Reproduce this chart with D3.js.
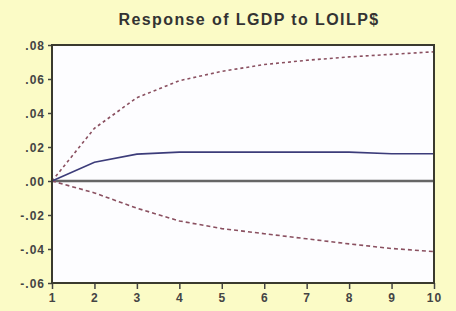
<!DOCTYPE html>
<html>
<head>
<meta charset="utf-8">
<script src="https://cdn.jsdelivr.net/npm/d3@7"></script>
<style>
  body { margin: 0; background: #fbfbc6; }
  svg { display: block; }
</style>
</head>
<body>
<svg id="chart" width="456" height="311"></svg>
<script>
const periods = [1, 2, 3, 4, 5, 6, 7, 8, 9, 10];
const response = [0, 0.011, 0.0158, 0.017, 0.017, 0.017, 0.017, 0.017, 0.016, 0.016];
const upperBand = [0, 0.031, 0.049, 0.059, 0.0645, 0.0685, 0.071, 0.073, 0.0745, 0.076];
const lowerBand = [0, -0.007, -0.016, -0.0235, -0.028, -0.031, -0.034, -0.037, -0.0397, -0.0415];
const yTicks = [0.08, 0.06, 0.04, 0.02, 0, -0.02, -0.04, -0.06];

const width = 456, height = 311;
const margin = { top: 45, right: 22, bottom: 28, left: 52 };

const svg = d3.select('#chart');

const x = d3.scaleLinear().domain([1, 10]).range([margin.left, width - margin.right]);
const y = d3.scaleLinear().domain([-0.06, 0.08]).range([height - margin.bottom, margin.top]);

svg.append('rect')
    .attr('x', margin.left).attr('y', margin.top)
    .attr('width', x(10) - x(1)).attr('height', y(-0.06) - y(0.08))
    .attr('fill', '#fdfdff');

svg.append('text')
    .attr('x', 249).attr('y', 25)
    .attr('text-anchor', 'middle')
    .style('font', 'bold 16px "Liberation Sans", Arial, sans-serif')
    .style('letter-spacing', '1.4px')
    .style('fill', '#333')
    .text('Response of LGDP to LOILP$');

const fmt = v => v === 0 ? '.00' : (v < 0 ? '-' : '') + d3.format('.2f')(Math.abs(v)).replace(/^0/, '');

const yAxis = svg.append('g')
    .attr('transform', `translate(${margin.left},0)`)
    .call(d3.axisLeft(y).tickValues(yTicks).tickSize(4).tickPadding(3).tickFormat(fmt));

const xAxis = svg.append('g')
    .attr('transform', `translate(0,${height - margin.bottom})`)
    .call(d3.axisBottom(x).tickValues(periods).tickSize(6).tickPadding(4).tickFormat(d3.format('d')));

[yAxis, xAxis].forEach(g => {
    g.select('.domain').remove();
    g.selectAll('line').attr('stroke', '#444').attr('stroke-width', 1.5);
    g.selectAll('text')
        .style('font', 'bold 12px "Liberation Sans", Arial, sans-serif')
        .style('letter-spacing', '1px')
        .style('fill', '#444');
});
yAxis.selectAll('text').attr('dy', '0.35em');

// zero line
svg.append('line')
    .attr('x1', x(1)).attr('x2', x(10))
    .attr('y1', y(0)).attr('y2', y(0))
    .attr('stroke', '#666').attr('stroke-width', 2.5);

const line = d3.line().x((d, i) => x(periods[i])).y(d => y(d));

svg.append('path').datum(upperBand)
    .attr('d', line).attr('fill', 'none')
    .attr('stroke', '#8a5060').attr('stroke-width', 1.6)
    .attr('stroke-dasharray', '3,3');

svg.append('path').datum(lowerBand)
    .attr('d', line).attr('fill', 'none')
    .attr('stroke', '#8a5060').attr('stroke-width', 1.6)
    .attr('stroke-dasharray', '4,3');

svg.append('path').datum(response)
    .attr('d', line).attr('fill', 'none')
    .attr('stroke', '#3c3c7a').attr('stroke-width', 1.6);

// frame
svg.append('rect')
    .attr('x', margin.left).attr('y', margin.top)
    .attr('width', x(10) - x(1)).attr('height', y(-0.06) - y(0.08))
    .attr('fill', 'none').attr('stroke', '#3a3a2e').attr('stroke-width', 2);
</script>
</body>
</html>
